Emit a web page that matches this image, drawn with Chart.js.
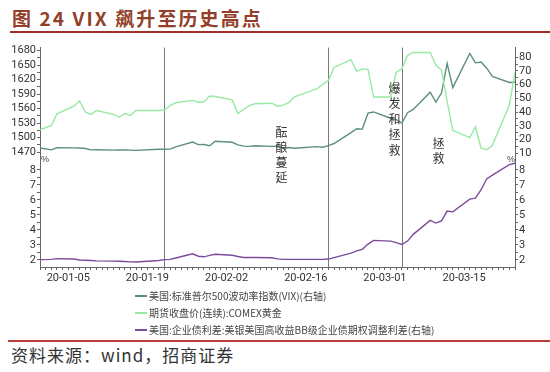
<!DOCTYPE html>
<html><head><meta charset="utf-8">
<script src="https://cdn.jsdelivr.net/npm/chart.js@4.4.1/dist/chart.umd.min.js"></script>
<style>
html,body{margin:0;padding:0;background:#fff;}
#wrap{position:relative;width:550px;height:372px;overflow:hidden;background:#fff;font-family:"Noto Sans CJK SC","Noto Sans",sans-serif;}
#title{position:absolute;left:12px;top:6px;font-size:19px;line-height:24px;font-weight:bold;color:#93402a;letter-spacing:2.1px;white-space:nowrap;}
#rule1{position:absolute;left:10px;right:0;top:31px;height:2px;background:#9e2f2a;}
#rule2{position:absolute;left:8px;right:0;top:340px;height:1.5px;background:#b8403a;}
#source{position:absolute;left:11px;top:344px;font-size:17px;line-height:22px;color:#333;letter-spacing:1px;white-space:nowrap;}
canvas{position:absolute;left:0;}
#cTop{top:40px;}
#cBot{top:146px;}
.note{position:absolute;writing-mode:vertical-rl;font-size:12px;line-height:12px;color:#333;letter-spacing:3px;}
.unit{position:absolute;font-size:9px;color:#444;font-family:"Liberation Sans",sans-serif;}
#legend{position:absolute;left:135px;top:289px;font-size:10px;color:#444;}
.lrow{height:17px;line-height:14px;white-space:nowrap;}
.lsw{display:inline-block;width:12px;height:2px;vertical-align:middle;margin-right:2px;position:relative;top:-1px;}
</style>
</head><body>
<div id="wrap">
  <div id="title">图 24 VIX 飙升至历史高点</div>
  <div id="rule1"></div>
  <canvas id="cTop" width="550" height="126"></canvas>
  <canvas id="cBot" width="550" height="143"></canvas>
  <div class="note" style="left:275px;top:126px;">酝酿蔓延</div>
  <div class="note" style="left:388px;top:82px;letter-spacing:3.5px;">爆发和拯救</div>
  <div class="note" style="left:432px;top:137px;">拯救</div>
  <div class="unit" style="left:41px;top:154px;">%</div>
  <div class="unit" style="left:507px;top:154px;">%</div>
  <div id="legend"></div>
  <div id="rule2"></div>
  <div id="source">资料来源：wind，招商证券</div>
</div>
<script>
// ---------------- data ----------------
const dates = ["2019-12-31","2020-01-02","2020-01-03","2020-01-06","2020-01-07","2020-01-08","2020-01-09","2020-01-10","2020-01-13","2020-01-14","2020-01-15","2020-01-16","2020-01-17","2020-01-21","2020-01-22","2020-01-23","2020-01-24","2020-01-27","2020-01-28","2020-01-29","2020-01-30","2020-01-31",
"2020-02-03","2020-02-04","2020-02-05","2020-02-06","2020-02-07","2020-02-10","2020-02-11","2020-02-12","2020-02-13","2020-02-14","2020-02-18","2020-02-19","2020-02-20","2020-02-21","2020-02-24","2020-02-25","2020-02-26","2020-02-27","2020-02-28",
"2020-03-02","2020-03-03","2020-03-04","2020-03-05","2020-03-06","2020-03-09","2020-03-10","2020-03-11","2020-03-12","2020-03-13","2020-03-16","2020-03-17","2020-03-18","2020-03-19","2020-03-20","2020-03-23","2020-03-24"];

const vix = [13.8,12.5,14.0,13.9,13.8,13.5,12.5,12.6,12.3,12.4,12.4,12.3,12.1,12.9,12.9,13.0,14.6,18.2,16.3,16.4,15.5,18.8,
18.0,16.1,15.2,15.0,15.5,15.0,15.2,13.7,14.2,13.7,14.8,14.4,15.6,17.1,25.0,27.9,27.6,39.2,40.1,
35.5,34.5,32.0,39.6,41.9,54.5,47.3,53.9,75.5,57.8,82.7,75.9,76.5,72.0,66.0,61.6,61.7];

const gold = [1516,1525,1549,1565,1576,1553,1548,1556,1548,1542,1550,1546,1556,1556,1557,1566,1572,1577,1573,1574,1586,1585,
1578,1550,1558,1566,1570,1571,1565,1567,1572,1584,1601,1610,1618,1645,1661,1637,1642,1641,1584,
1584,1635,1642,1670,1676,1676,1650,1639,1575,1515,1500,1522,1478,1475,1484,1567,1635];

const spread = [2.01,2.03,2.08,2.05,1.99,1.97,1.95,1.93,1.91,1.90,1.89,1.86,1.85,1.95,2.01,2.03,2.12,2.40,2.24,2.20,2.30,2.37,
2.30,2.22,2.15,2.15,2.15,2.14,2.06,2.03,2.03,2.03,2.03,2.03,2.05,2.15,2.45,2.60,2.70,3.05,3.30,
3.25,3.15,3.02,3.25,3.70,4.63,4.45,4.60,5.25,5.20,6.05,6.12,6.68,7.40,7.65,8.35,8.45];

const seriesNames = ["美国:标准普尔500波动率指数(VIX)(右轴)","期货收盘价(连续):COMEX黄金","美国:企业债利差:美银美国高收益BB级企业债期权调整利差(右轴)"];
const xLabelDates = ["2020-01-05","2020-01-19","2020-02-02","2020-02-16","2020-03-01","2020-03-15"];
const eventDates = ["2020-01-22","2020-02-20","2020-03-04"];
const xRange = ["2019-12-31","2020-03-24"];
const goldTicks = [1470,1500,1530,1560,1590,1620,1650,1680];
const vixTicks = [10,20,30,40,50,60,70,80];
const spreadTicks = [2,3,4,5,6,7,8];

// ---------------- helpers ----------------
const COL_VIX = '#5d8f7c', COL_GOLD = '#98eaa3', COL_SPREAD = '#7b4c9c';
const AXIS = '#666', TXT = '#333';
function dayNum(s){const [y,m,d]=s.split('-').map(Number);return (Date.UTC(y,m-1,d)-Date.UTC(2020,0,1))/864e5;}
function pts(vals){return dates.map((d,i)=>({x:dayNum(d),y:vals[i]}));}
const xMin = dayNum(xRange[0]), xMax = dayNum(xRange[1]);
const labelDays = new Map(xLabelDates.map(d=>[dayNum(d), d.slice(2)]));

// legend
const lcol=[COL_VIX,COL_GOLD,COL_SPREAD];
document.getElementById('legend').innerHTML = seriesNames.map((n,i)=>
  '<div class="lrow"><span class="lsw" style="background:'+lcol[i]+'"></span>'+n+'</div>').join('');

const eventLines = {
  id:'eventLines',
  beforeDatasetsDraw(chart){
    const {ctx, chartArea:a, scales:{x}} = chart;
    ctx.save(); ctx.strokeStyle='#7a7a7a'; ctx.lineWidth=1;
    eventDates.forEach(d=>{
      const px=Math.round(x.getPixelForValue(dayNum(d)))+0.5;
      ctx.beginPath(); ctx.moveTo(px,a.top); ctx.lineTo(px,a.bottom); ctx.stroke();
    });
    ctx.restore();
  }
};

const tickFont = {family:'Roboto, "Liberation Sans", sans-serif', size:11};
function yAxis(pos, min, max, major, minorStep, width){
  return {
    position:pos, min:min, max:max,
    afterBuildTicks:s=>{
      const t=[]; const lo=major[0], hi=major[major.length-1];
      for(let v=lo; v<=hi+1e-9; v+=minorStep){t.push({value:Math.round(v*1000)/1000});}
      s.ticks=t;
    },
    afterFit:s=>{s.width=width;},
    ticks:{autoSkip:false, padding:1, color:TXT, font:tickFont,
      callback:v=>major.includes(v)?String(v):''},
    grid:{drawOnChartArea:false, drawTicks:true, tickLength:3, color:AXIS, tickColor:AXIS},
    border:{display:true, color:AXIS, width:1}
  };
}

const common = {
  responsive:false, animation:false, events:[],
  plugins:{legend:{display:false}, tooltip:{enabled:false}},
};

new Chart(document.getElementById('cTop'), {
  type:'line',
  data:{datasets:[
    {label:seriesNames[1], data:pts(gold), yAxisID:'yL', borderColor:COL_GOLD, borderWidth:1.4, pointRadius:0, tension:0},
    {label:seriesNames[0], data:pts(vix), yAxisID:'yR', borderColor:COL_VIX, borderWidth:1.4, pointRadius:0, tension:0}
  ]},
  options:Object.assign({}, common, {
    layout:{padding:{top:7,bottom:10,left:0,right:0}},
    scales:{
      x:{type:'linear', min:xMin, max:xMax, display:false},
      yL:yAxis('left', 1462, 1686, goldTicks, 15, 40),
      yR:yAxis('right', 8, 87, vixTicks, 5, 35)
    }
  }),
  plugins:[eventLines]
});

new Chart(document.getElementById('cBot'), {
  type:'line',
  data:{datasets:[
    {label:seriesNames[2], data:pts(spread), yAxisID:'yR', borderColor:COL_SPREAD, borderWidth:1.4, pointRadius:0, tension:0}
  ]},
  options:Object.assign({}, common, {
    layout:{padding:{top:10,bottom:0,left:0,right:0}},
    scales:{
      x:{type:'linear', min:xMin, max:xMax, position:'bottom',
        afterBuildTicks:s=>{const t=[];for(let v=xMin;v<=xMax;v++)t.push({value:v});s.ticks=t;},
        afterFit:s=>{s.height=22;},
        ticks:{autoSkip:false, maxRotation:0, minRotation:0, padding:2, color:TXT, font:tickFont,
          callback:v=>labelDays.has(v)?labelDays.get(v):''},
        grid:{drawOnChartArea:false, drawTicks:true, tickLength:3, color:AXIS, tickColor:AXIS},
        border:{display:true, color:AXIS, width:1}
      },
      yL:yAxis('left', 1.52, 8.93, spreadTicks, 0.5, 40),
      yR:yAxis('right', 1.52, 8.93, spreadTicks, 0.5, 35)
    }
  }),
  plugins:[eventLines]
});
</script>
</body></html>
